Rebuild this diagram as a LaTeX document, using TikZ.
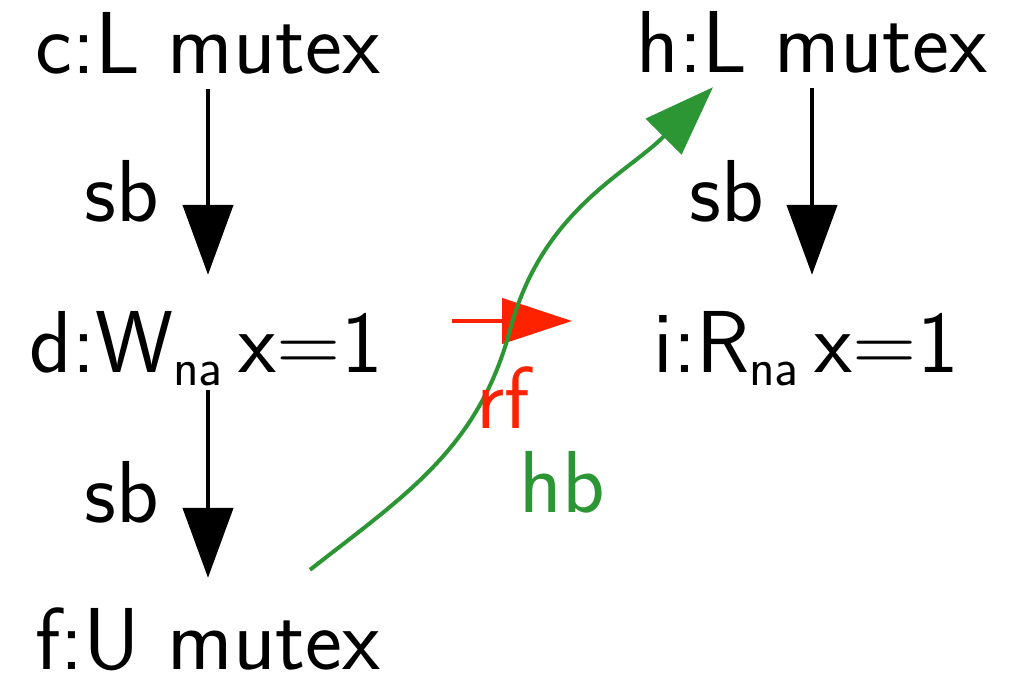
\documentclass[tikz,border=0pt]{standalone}
\usetikzlibrary{arrows.meta}
\definecolor{rfred}{RGB}{255,34,0}
\definecolor{hbgreen}{RGB}{44,150,52}
\newcommand{\sub}[1]{\raisebox{-13pt}{\fontsize{53}{53}\selectfont #1}}
\begin{document}
\begin{tikzpicture}[x=1pt,y=-1pt,
  ev/.style={inner sep=0pt, anchor=base, text height=60pt, text depth=6pt,
    font=\sffamily\fontsize{88}{96}\selectfont},
  lbl/.style={inner sep=0pt, anchor=base, font=\sffamily\fontsize{88}{96}\selectfont},
  sbarrow/.style={line width=4.5pt, -{Triangle[length=70pt,width=50pt]}},
  rfarrow/.style={line width=4.5pt, rfred, -{Triangle[length=70pt,width=45pt]}},
  hbarrow/.style={line width=4pt, hbgreen, -{Triangle[length=70pt,width=50pt]}}]
\useasboundingbox (0,0) rectangle (1014,679);
\node[ev] (c) at (208,74) {c:L mutex};
\node[ev] (h) at (812,73) {h:L mutex};
\node[ev] (d) at (206,372) {d:W\sub{na}\hspace{16pt}x=1};
\node[ev] (i) at (806,372) {i:R\sub{na}\hspace{16pt}x=1};
\node[ev] (f) at (208,669) {f:U mutex};
\draw[sbarrow, shorten <=9pt, shorten >=37pt] (c.south) -- (c.south |- d.north);
\draw[sbarrow, shorten <=12pt, shorten >=31pt] (d.south -| f.north) -- (f.north);
\draw[sbarrow, shorten <=9pt, shorten >=37pt] (h.south) -- (h.south |- i.north);
\draw[rfarrow, shorten <=246pt, shorten >=234pt] ([yshift=24pt]d.center) -- ([yshift=24pt]i.center);
\draw[hbarrow] ([shift={(102,-39)}]f.north) to[out=38,in=255] (510,330)
  to[out=75,in=225] ([shift={(-99,8)}]h.south);
\node[lbl] (sb1) at (122,222) {sb};
\node[lbl] (sb2) at (122,522) {sb};
\node[lbl] (sb3) at (727,222) {sb};
\node[lbl, text=rfred] (rf) at (503,428) {rf};
\node[lbl, text=hbgreen] (hb) at (562,512) {hb};
\end{tikzpicture}
\end{document}
